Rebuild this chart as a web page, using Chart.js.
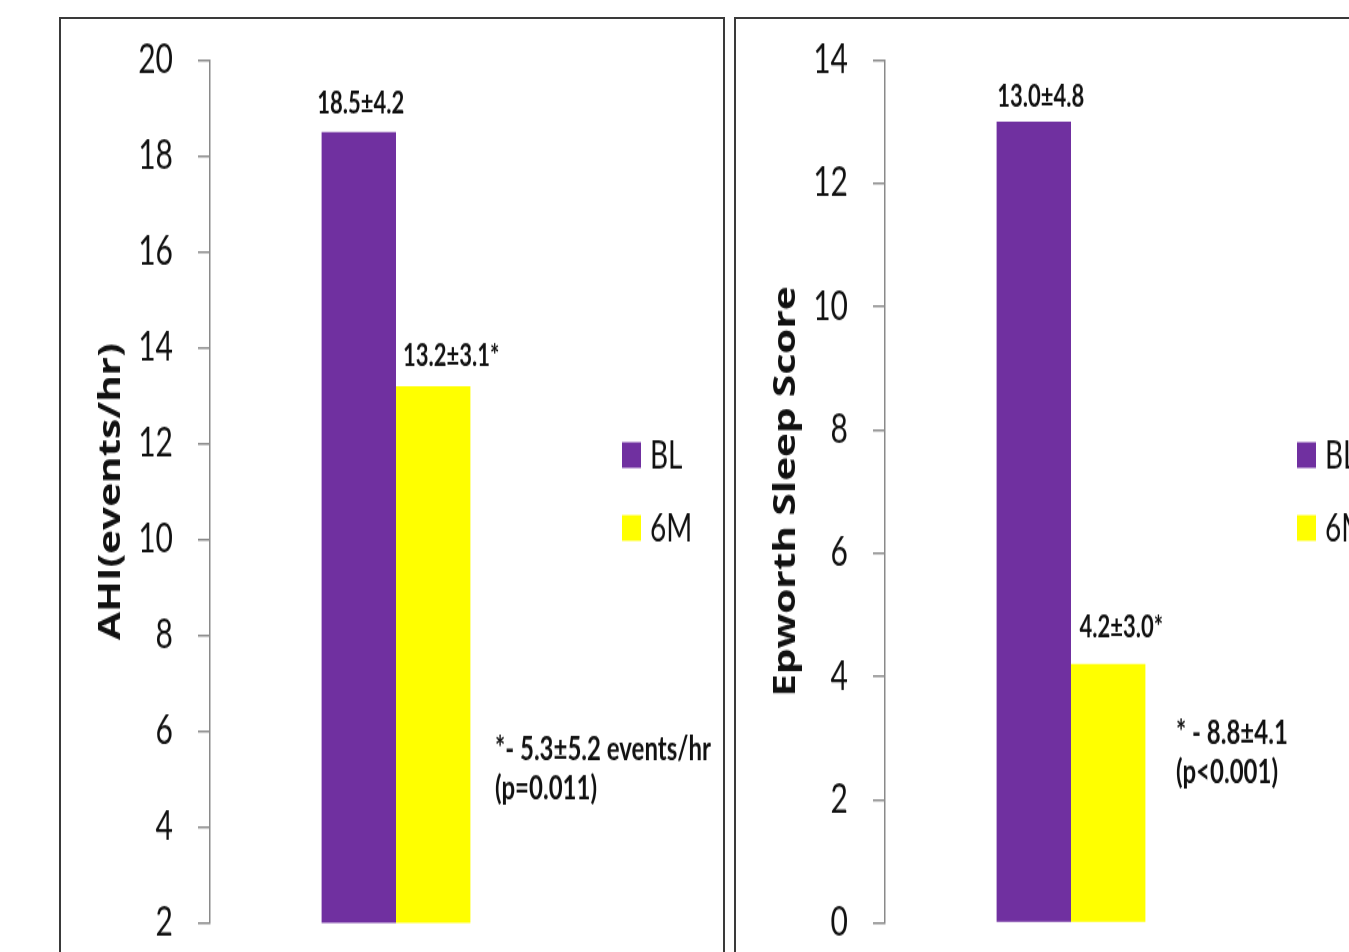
<!DOCTYPE html>
<html><head><meta charset="utf-8">
<script src="https://cdn.jsdelivr.net/npm/chart.js@4.4.1/dist/chart.umd.min.js"></script>
<style>
html,body{margin:0;padding:0;background:#fff;overflow:hidden;width:1349px;height:952px;}
.panel{position:absolute;top:17px;height:960px;border:2px solid #3a3a3a;box-sizing:border-box;background:#fff;}
#p1{left:59px;width:666px;}
#p2{left:734px;width:700px;}
.wrap{position:absolute;top:19px;width:660px;height:691px;transform:scaleY(1.35);transform-origin:0 0;}
#w1{left:62px;} #w2{left:737px;}
</style></head><body>
<div class="panel" id="p1"></div><div class="panel" id="p2"></div>
<div class="wrap" id="w1"><canvas id="c1" width="660" height="691"></canvas></div>
<div class="wrap" id="w2"><canvas id="c2" width="660" height="691"></canvas></div>
<script>
// ---- data ----
const categories = ['Patients'];
const seriesNames = ['BL', '6M'];
const ahiMean = [18.5, 13.2];
const ahiSD = [4.2, 3.1];
const essMean = [13.0, 4.2];
const essSD = [4.8, 3.0];
const significant = [false, true];
const ahiTickRange = [2, 20, 2];
const essTickRange = [0, 14, 2];
const ahiNote = ['*- 5.3\u00b15.2 events/hr', '(p=0.011)'];
const essNote = ['* - 8.8\u00b14.1', '(p<0.001)'];
const ahiTitle = 'AHI(events/hr)';
const essTitle = 'Epworth Sleep Score';
const seriesColors = ['#7030A0', '#FFFF00'];

const decor = {
  id: 'decor',
  afterDatasetsDraw(chart, args, o) {
    const ctx = chart.ctx;
    ctx.save();
    ctx.fillStyle = '#111';
    ctx.font = 'bold 22px Lato';
    ctx.textAlign = 'center';
    ctx.textBaseline = 'middle';
    chart.data.datasets.forEach((ds, i) => {
      const el = chart.getDatasetMeta(i).data[0];
      const txt = o.means[i].toFixed(1) + '\u00b1' + o.sds[i].toFixed(1) + (significant[i] ? '*' : '');
      ctx.fillText(txt, el.x + o.labelDx[i], el.y - o.labelDy[i]);
    });
    ctx.textAlign = 'left';
    ctx.font = 'bold 24px Lato';
    o.note.forEach((t, k) => ctx.fillText(t, o.noteX, o.noteY + k * o.noteGap));
    ctx.font = '28px Lato';
    chart.data.datasets.forEach((ds, i) => {
      const cy = o.legY + i * o.legGap;
      ctx.fillStyle = ds.backgroundColor;
      ctx.fillRect(o.legX, cy - 9.5, 19, 19);
      ctx.fillStyle = '#111';
      ctx.fillText(ds.label, o.legX + 28, cy + 1);
    });
    ctx.restore();
  }
};

function makeChart(id, means, sds, range, title, note, dec) {
  return new Chart(document.getElementById(id), {
    type: 'bar',
    data: {
      labels: categories,
      datasets: seriesNames.map((n, i) => ({
        label: n, data: [means[i]], backgroundColor: seriesColors[i], borderWidth: 0
      }))
    },
    options: {
      responsive: false, animation: false, devicePixelRatio: 1,
      layout: { padding: { left: 0, right: 140, top: 30.4, bottom: 21.4 } },
      datasets: { bar: { categoryPercentage: 0.4, barPercentage: 1.0 } },
      plugins: { legend: { display: false }, tooltip: { enabled: false },
        decor: Object.assign({ means: means, sds: sds, note: note }, dec) },
      scales: {
        x: { display: false },
        y: {
          min: range[0], max: range[1],
          afterFit(s) { s.width = 148; s.paddingTop = 0; s.paddingBottom = 0; },
          ticks: { stepSize: range[2], padding: 25, color: '#111', font: { family: 'Lato', size: 30 } },
          grid: { drawOnChartArea: false, drawTicks: true, tickLength: 12, color: '#8a8a8a', lineWidth: 1.5 },
          border: { display: true, color: '#8a8a8a', width: 1.5 },
          title: { display: true, text: title, color: '#111', padding: { top: 31, bottom: 0 },
            font: { family: 'Open Sans', size: 30, weight: 'bold' } }
        }
      }
    },
    plugins: [decor]
  });
}

makeChart('c1', ahiMean, ahiSD, ahiTickRange, ahiTitle, ahiNote,
  { labelDx: [2, 18], labelDy: [21, 22], noteX: 433, noteY: 541.5, noteGap: 28.5, legX: 560, legY: 323, legGap: 54 });
makeChart('c2', essMean, essSD, essTickRange, essTitle, essNote,
  { labelDx: [7, 13], labelDy: [18, 27.4], noteX: 439, noteY: 529, noteGap: 29.5, legX: 560, legY: 323, legGap: 54 });
</script>
</body></html>
